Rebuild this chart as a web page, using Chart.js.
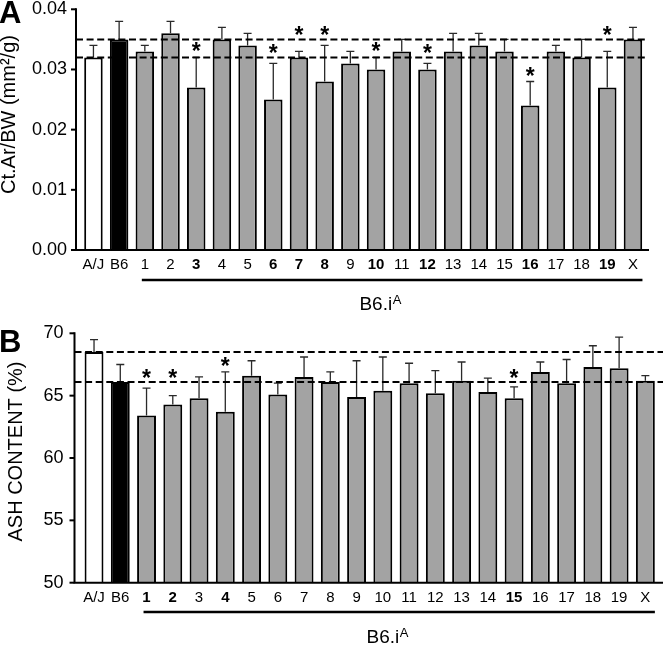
<!DOCTYPE html>
<html><head><meta charset="utf-8">
<script src="https://cdn.jsdelivr.net/npm/chart.js@4.4.1/dist/chart.umd.min.js"></script>
<style>
html,body{margin:0;padding:0;background:#fff;}
#wrap{position:relative;width:663px;height:645px;overflow:hidden;background:#fff;}
canvas{position:absolute;left:0;}
</style></head><body>
<div id="wrap">
<canvas id="cA" width="663" height="335" style="top:-15px"></canvas>
<canvas id="cB" width="663" height="340" style="top:305px"></canvas>
</div>
<script>
// ---------- DATA ----------
const categories = ['A/J','B6','1','2','3','4','5','6','7','8','9','10','11','12','13','14','15','16','17','18','19','X'];

const ctArValues = [0.032,0.035,0.033,0.036,0.027,0.035,0.034,0.025,0.032,0.028,0.031,0.030,0.033,0.030,0.033,0.034,0.033,0.024,0.033,0.032,0.027,0.035];
const ctArErrors = [0.002,0.003,0.001,0.002,0.005,0.002,0.002,0.006,0.001,0.006,0.002,0.002,0.002,0.001,0.003,0.002,0.002,0.004,0.001,0.003,0.006,0.002];
const ctArSignificant = ['3','6','7','8','10','12','16','19'];
const ctArReferenceLines = [0.035,0.032];
const ctArTickLabels = ['0.00','0.01','0.02','0.03','0.04'];

const ashValues = [68.5,66.1,63.4,64.3,64.8,63.7,66.6,65.1,66.5,66.1,64.9,65.4,66.0,65.2,66.2,65.3,64.8,66.9,66.0,67.3,67.2,66.2];
const ashErrors = [1.0,1.4,2.2,0.7,1.7,3.2,1.2,0.9,1.6,0.8,2.9,2.7,1.6,1.8,1.5,1.1,0.9,0.8,1.9,1.7,2.5,0.4];
const ashSignificant = ['1','2','4','15'];
const ashReferenceLines = [68.5,66.1];
const ashTickLabels = ['50','55','60','65','70'];

const groupLabel = 'B6.i';
const groupSup = 'A';

// ---------- STYLE ----------
const FONT = '"Liberation Sans", Arial, Helvetica, sans-serif';
const barColors = categories.map((c,i)=> i===0 ? '#ffffff' : (i===1 ? '#000000' : '#a3a3a3'));

function panel(canvasId, o) {
  const sig = new Set(o.significant.map(s => categories.indexOf(s)));
  const H = o.H;
  const toC = py => py - o.canvasTop;   // page y -> canvas y

  const extras = {
    id: 'extras_' + canvasId,
    afterDatasetsDraw(chart) {
      const ctx = chart.ctx, xs = chart.scales.x, ys = chart.scales.y, area = chart.chartArea;
      ctx.save();
      // error bars
      ctx.strokeStyle = '#2a2a2a'; ctx.lineWidth = 1.3;
      const errTops = [];
      o.values.forEach((v,i) => {
        const px = xs.getPixelForValue(i);
        const y0 = ys.getPixelForValue(v), y1 = ys.getPixelForValue(v + o.errors[i]);
        errTops.push(y1);
        ctx.beginPath();
        ctx.moveTo(px, y0); ctx.lineTo(px, y1);
        ctx.moveTo(px - 4, y1); ctx.lineTo(px + 4, y1);
        ctx.stroke();
      });
      // axes
      ctx.strokeStyle = '#000'; ctx.lineWidth = 2; ctx.setLineDash([]);
      ctx.beginPath();
      ctx.moveTo(o.axisX, area.top - 1); ctx.lineTo(o.axisX, area.bottom);
      ctx.lineTo(o.axisEnd, area.bottom);
      ctx.stroke();
      ys.ticks.forEach(t => {
        const py = ys.getPixelForValue(t.value);
        ctx.beginPath(); ctx.moveTo(o.axisX - 5, py); ctx.lineTo(o.axisX, py); ctx.stroke();
      });
      // dashed reference lines
      const linePx = o.refs.map(r => ys.getPixelForValue(r));
      ctx.setLineDash([7, 3.6]); ctx.lineWidth = 2;
      linePx.forEach(py => {
        ctx.beginPath(); ctx.moveTo(o.axisX, py); ctx.lineTo(o.dashEnd, py); ctx.stroke();
      });
      ctx.setLineDash([]);
      // significance stars
      const sortedLines = linePx.slice().sort((a,b)=>b-a);
      ctx.fillStyle = '#000'; ctx.font = 'bold 23px ' + FONT;
      ctx.textAlign = 'center'; ctx.textBaseline = 'alphabetic';
      sig.forEach(i => {
        let cy = errTops[i] - 11;
        sortedLines.forEach(lp => { if (Math.abs(cy - lp) < 7) cy = lp - 9; });
        ctx.fillText('*', xs.getPixelForValue(i), cy + 13);
      });
      // group underline + label
      const ux0 = xs.getPixelForValue(2) - 3, ux1 = xs.getPixelForValue(categories.length - 1) + 9.5;
      ctx.lineWidth = 2.6;
      ctx.beginPath(); ctx.moveTo(ux0, toC(o.underlineY)); ctx.lineTo(ux1, toC(o.underlineY)); ctx.stroke();
      ctx.font = '19px ' + FONT;
      const w1 = ctx.measureText(groupLabel).width;
      ctx.font = '13px ' + FONT;
      const w2 = ctx.measureText(groupSup).width;
      const cx = (ux0 + ux1) / 2 - 12;
      const sx = cx - (w1 + w2) / 2;
      ctx.textAlign = 'left'; ctx.textBaseline = 'alphabetic';
      ctx.font = '19px ' + FONT;
      ctx.fillText(groupLabel, sx, toC(o.groupLabelY) + 7);
      ctx.font = '13px ' + FONT;
      ctx.fillText(groupSup, sx + w1 + 0.5, toC(o.groupLabelY) + 1);
      // y title
      ctx.save();
      ctx.translate(o.titleX, toC(o.titleY));
      ctx.rotate(-Math.PI / 2);
      ctx.font = '20px ' + FONT; ctx.textAlign = 'center'; ctx.textBaseline = 'alphabetic';
      ctx.fillText(o.title, 0, 0);
      ctx.restore();
      // panel letter
      ctx.font = 'bold 31px ' + FONT; ctx.textAlign = 'left'; ctx.textBaseline = 'alphabetic';
      ctx.fillText(o.letter, -1, toC(o.letterY));
      ctx.restore();
    }
  };

  return new Chart(document.getElementById(canvasId), {
    type: 'bar',
    data: {
      labels: categories,
      datasets: [{
        data: o.values,
        backgroundColor: barColors,
        borderColor: '#000',
        borderWidth: 2,
        barPercentage: 0.72,
        categoryPercentage: 1.0
      }]
    },
    options: {
      responsive: false, maintainAspectRatio: false, animation: false, devicePixelRatio: 1,
      layout: { padding: { top: o.areaTop, right: 663 - o.areaRight, bottom: 0, left: 0 } },
      plugins: { legend: { display: false }, tooltip: { enabled: false } },
      scales: {
        x: {
          grid: { display: false, drawTicks: false },
          border: { display: false },
          ticks: {
            autoSkip: false, maxRotation: 0, padding: 6, color: '#000',
            font: c => ({ family: FONT, size: 15, weight: sig.has(c.index) ? 'bold' : 'normal' })
          },
          afterFit: s => { s.height = H - o.areaBottom; }
        },
        y: {
          min: o.min, max: o.max,
          grid: { display: false, drawTicks: false },
          border: { display: false },
          ticks: {
            stepSize: o.step, padding: o.tickPad, color: '#000',
            font: { family: FONT, size: 18 },
            callback: (v, i) => o.tickLabels[i]
          },
          afterFit: s => { s.width = o.areaLeft; }
        }
      }
    },
    plugins: [extras]
  });
}

// Panel A (canvas top at page y = -15)
panel('cA', {
  canvasTop: -15, H: 335,
  areaTop: 20, areaBottom: 265, areaLeft: 80.6, areaRight: 645.8,
  axisX: 76, axisEnd: 649, dashEnd: 647, tickPad: 13.5,
  min: 0, max: 0.04, step: 0.01, tickLabels: ctArTickLabels,
  values: ctArValues, errors: ctArErrors, significant: ctArSignificant, refs: ctArReferenceLines,
  underlineY: 280, groupLabelY: 303,
  title: 'Ct.Ar/BW (mm\u00B2/g)', titleX: 15, titleY: 114.5,
  letter: 'A', letterY: 23
});

// Panel B (canvas top at page y = 305)
panel('cB', {
  canvasTop: 305, H: 340,
  areaTop: 26, areaBottom: 277.7, areaLeft: 80.9, areaRight: 658.5,
  axisX: 74.5, axisEnd: 663, dashEnd: 663, tickPad: 17.5,
  min: 50, max: 70, step: 5, tickLabels: ashTickLabels,
  values: ashValues, errors: ashErrors, significant: ashSignificant, refs: ashReferenceLines,
  underlineY: 612, groupLabelY: 636,
  title: 'ASH CONTENT (%)', titleX: 21.5, titleY: 451.5,
  letter: 'B', letterY: 352
});
</script>
</body></html>
